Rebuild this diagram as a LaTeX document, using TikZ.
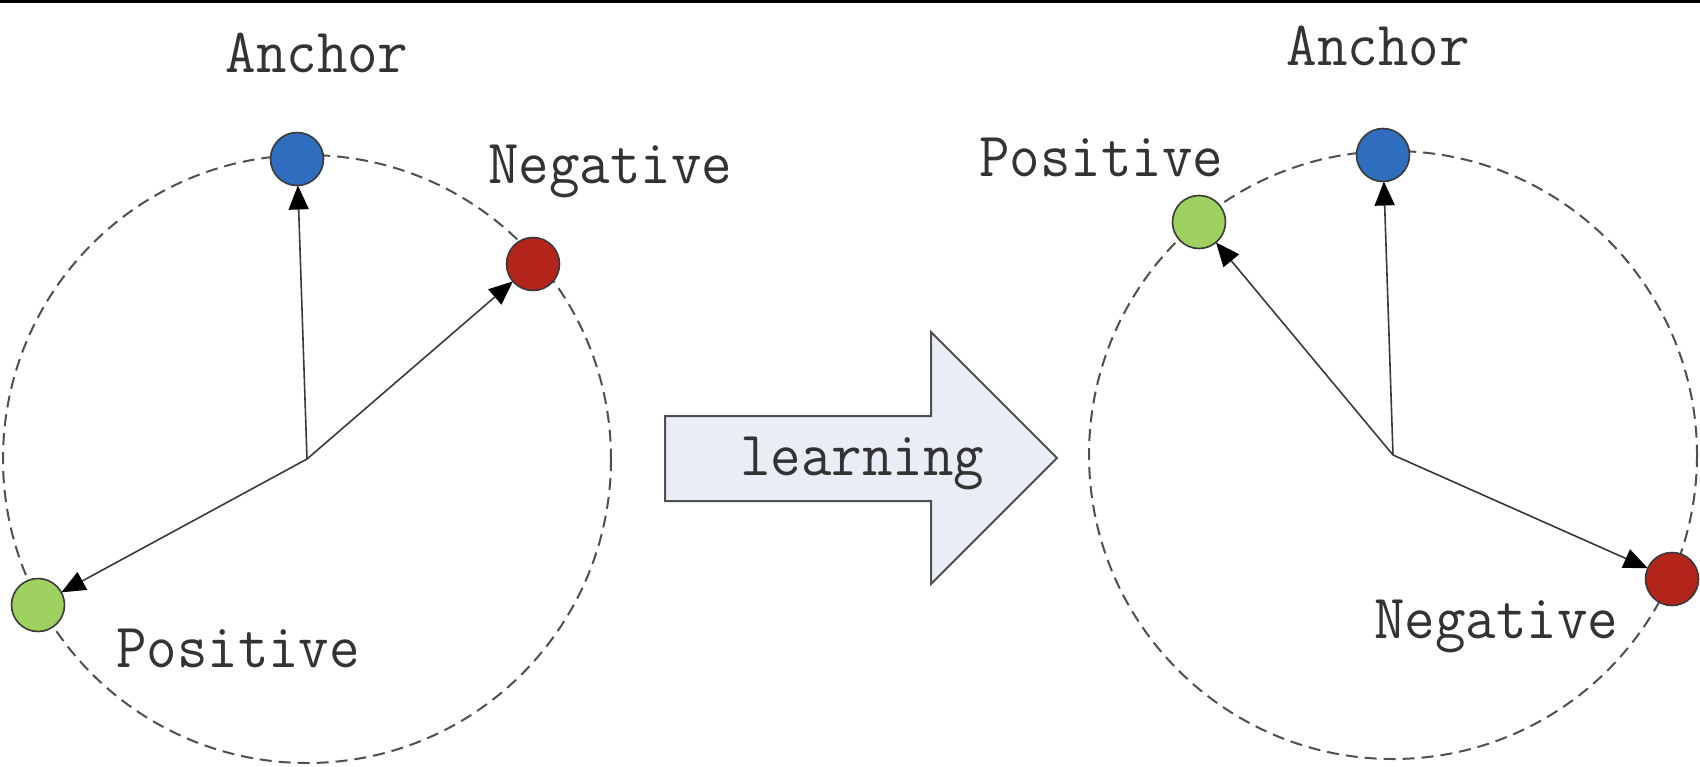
\documentclass[tikz,border=0pt]{standalone}
\usepackage{fontspec}
\usetikzlibrary{arrows.meta}
\definecolor{ancblue}{HTML}{2F6DBE}
\definecolor{negred}{HTML}{B3241A}
\definecolor{posgreen}{HTML}{9FD160}
\definecolor{ringgray}{HTML}{4F4F4F}
\definecolor{linegray}{HTML}{3A3A3A}
\definecolor{arrowfill}{HTML}{E9EDF6}
\definecolor{txtgray}{HTML}{333333}
\newcommand\labfont{\fontsize{63}{70}\selectfont\ttfamily}
\newcommand\narrowtxt[1]{\scalebox{0.94}[1]{#1}}
\tikzset{
  ring/.style={draw=ringgray, line width=2pt, dash pattern=on 12pt off 7pt},
  ball/.style={circle, draw=linegray, line width=1.6pt, minimum size=53pt, inner sep=0pt, outer sep=0pt},
  vec/.style={draw=linegray, line width=1.6pt, -{Triangle[length=24pt,width=20pt,color=black]}, shorten >=0pt},
  lab/.style={anchor=base, inner sep=0pt, text=txtgray, font=\labfont},
  bigarrow/.style={draw=ringgray, line width=2pt, fill=arrowfill, line join=miter}
}
\begin{document}
\begin{tikzpicture}[x=1pt,y=-1pt]
\useasboundingbox (0,0) rectangle (1700,766);
\fill[white] (0,0) rectangle (1700,766);
\fill[black] (0,0) rectangle (1700,2.5);
% left ring
\coordinate (oL) at (307,459);
\draw[ring] (oL) circle[radius=304];
\node[ball, fill=ancblue] (aL) at (297,159) {};
\node[ball, fill=negred] (nL) at (533,264) {};
\node[ball, fill=posgreen] (pL) at (38,605) {};
\draw[vec] (oL) -- (aL);
\draw[vec] (oL) -- (nL);
\draw[vec] (oL) -- (pL);
\node[lab] (tAL) at (317,72) {\narrowtxt{Anchor}};
\node[lab] (tNL) at (610,183) {\narrowtxt{Negative}};
\node[lab] (tPL) at (238,667) {\narrowtxt{Positive}};
% learning arrow
\draw[bigarrow] (665,416) -- (931,416) -- (931,332) -- (1057,458) -- (931,584) -- (931,501) -- (665,501) -- cycle;
\node[lab] (tLearn) at (862,475) {\narrowtxt{learning}};
% right ring
\coordinate (oR) at (1393,455);
\draw[ring] (oR) circle[radius=304];
\node[ball, fill=ancblue] (aR) at (1383,155) {};
\node[ball, fill=posgreen] (pR) at (1199,222) {};
\node[ball, fill=negred] (nR) at (1672,579) {};
\draw[vec] (oR) -- (aR);
\draw[vec] (oR) -- (pR);
\draw[vec] (oR) -- (nR);
\node[lab] (tAR) at (1378,65) {\narrowtxt{Anchor}};
\node[lab] (tPR) at (1101,176) {\narrowtxt{Positive}};
\node[lab] (tNR) at (1496,638) {\narrowtxt{Negative}};
\end{tikzpicture}
\end{document}
